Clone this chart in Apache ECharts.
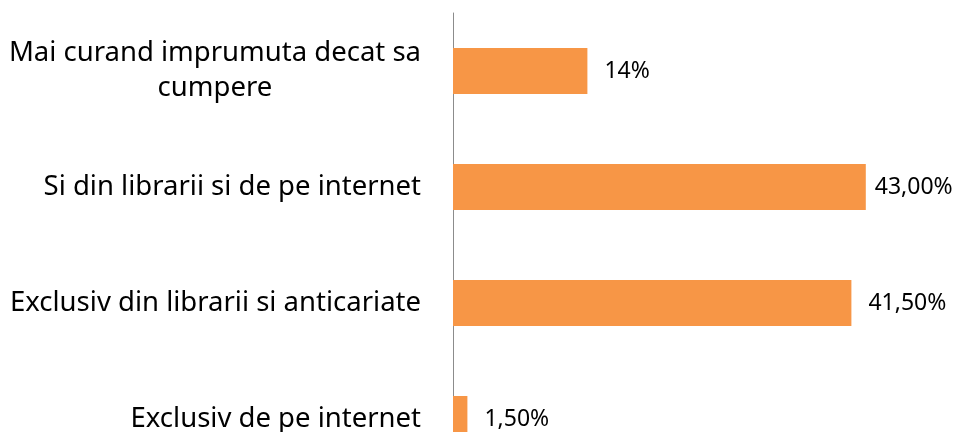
<!DOCTYPE html>
<html>
<head>
<meta charset="utf-8">
<script src="https://cdn.jsdelivr.net/npm/echarts@6/dist/echarts.min.js"></script>
<style>
  html, body { margin: 0; padding: 0; background: #fff; }
  #chart { width: 958px; height: 432px; }
</style>
</head>
<body>
<div id="chart"></div>
<script>
const categories = [
    "Mai curand imprumuta decat sa\ncumpere",
    "Si din librarii si de pe internet",
    "Exclusiv din librarii si anticariate",
    "Exclusiv de pe internet"
];
const values = [14, 43, 41.5, 1.5];
const valueLabels = ["14%", "43,00%", "41,50%", "1,50%"];

const myChart = echarts.init(document.getElementById("chart"));

// the longest label sits closer to its bar so it stays inside the picture
const barData = values.map((v, i) => i === 1 ? { value: v, label: { distance: 9 } } : v);

myChart.setOption({
    animation: false,
    grid: { left: 453, width: 480, top: 13, height: 464, outerBoundsMode: "none", containLabel: false },
    xAxis: {
        type: "value",
        min: 0,
        max: 50,
        show: false
    },
    yAxis: {
        type: "category",
        inverse: true,
        data: categories,
        axisTick: { show: false },
        axisLine: { lineStyle: { color: "#8c8c8c", width: 1 } },
        axisLabel: {
            margin: 32,
            align: "right",
            fontFamily: "Noto Sans",
            fontSize: 27.5,
            color: "#000",
            formatter(val) {
                return val.split("\n").map(line => "{a|" + line + "}").join("\n");
            },
            rich: {
                a: { align: "center", fontFamily: "Noto Sans", fontSize: 27.5, color: "#000", lineHeight: 35 }
            }
        }
    },
    series: [
        {
            type: "bar",
            data: barData,
            barWidth: 46,
            itemStyle: { color: "#F79646" },
            label: {
                show: true,
                position: "right",
                distance: 17,
                fontFamily: "Noto Sans",
                fontSize: 23,
                color: "#000",
                formatter: p => valueLabels[p.dataIndex]
            }
        }
    ]
});
</script>
</body>
</html>
